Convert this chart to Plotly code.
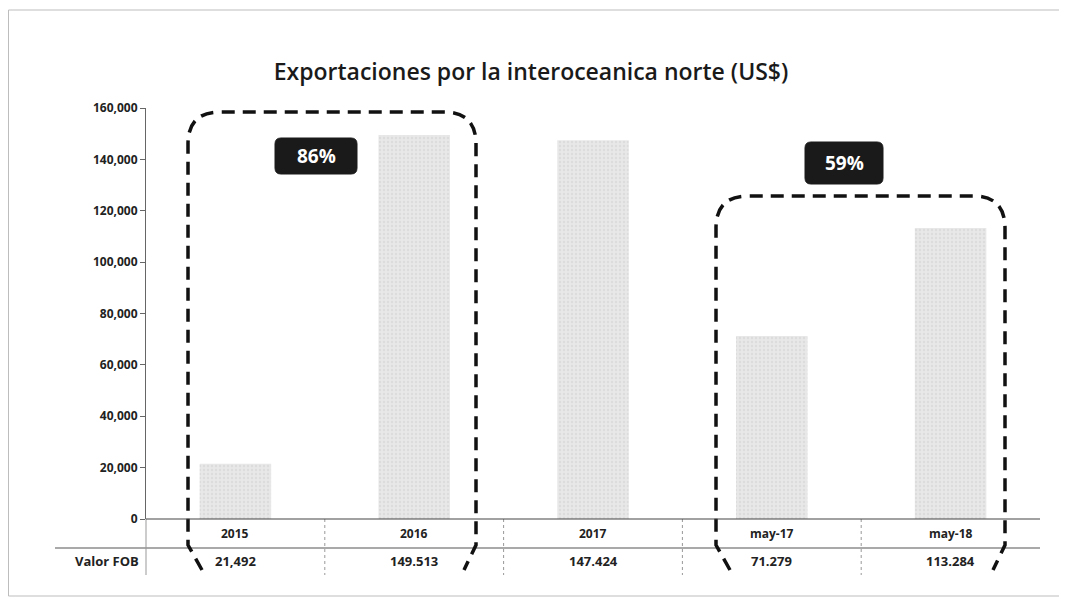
import plotly.graph_objects as go

categories = ["2015", "2016", "2017", "may-17", "may-18"]
valor_fob = [21492, 149513, 147424, 71279, 113284]
valor_labels = ["21,492", "149.513", "147.424", "71.279", "113.284"]
tick_vals = [0, 20000, 40000, 60000, 80000, 100000, 120000, 140000, 160000]
tick_text = ["0", "20,000", "40,000", "60,000", "80,000", "100,000", "120,000", "140,000", "160,000"]
pct_labels = ["86%", "59%"]

OFF = 8  # page body margin
SW, SH = 1067, 604
W, H = SW - OFF, SH - OFF
# plot area in screen pixels
SL, SR, ST, SB = 146, 1040, 108, 519
L, R, T, B = SL - OFF, SW - SR, ST - OFF, SH - SB
PW, PH = SR - SL, SB - ST
FONT = "Open Sans, Noto Sans, sans-serif"

def px(x):
    return (x - SL) / PW

def py(y):
    return (SB - y) / PH

x_idx = list(range(len(categories)))

fig = go.Figure()
fig.add_trace(go.Bar(
    x=x_idx, y=valor_fob, width=0.4,
    marker=dict(color="#e6e6e6", line=dict(width=0),
                pattern=dict(shape=".", fgcolor="#cfcfcf", bgcolor="#e8e8e8", size=4, solidity=0.35)),
    hoverinfo="skip", showlegend=False,
))

shapes = []
annotations = []

# outer border (top, left, bottom)
shapes.append(dict(type="path", xref="paper", yref="paper",
                   path=f"M {px(1066)},{py(10)} L {px(8.5)},{py(10)} L {px(8.5)},{py(596)} L {px(1066)},{py(596)}",
                   line=dict(color="#bdbdbd", width=1)))

# table lines
shapes.append(dict(type="line", xref="paper", yref="paper", x0=px(55), x1=px(1040), y0=py(548), y1=py(548),
                   line=dict(color="#555", width=1.2)))
for k in range(len(categories)):
    xb = k / len(categories)
    shapes.append(dict(type="line", xref="paper", yref="paper", x0=xb, x1=xb, y0=py(519), y1=py(575),
                       line=dict(color="#999", width=1, dash="dot" if k > 0 else "solid")))

# table text
for i, (c, v) in enumerate(zip(categories, valor_labels)):
    xc = (i + 0.5) / len(categories)
    annotations.append(dict(x=xc, y=py(533), xref="paper", yref="paper", text=f"<b>{c}</b>", showarrow=False,
                            font=dict(family=FONT, size=12, color="#222"), xanchor="center", yanchor="middle"))
    annotations.append(dict(x=xc, y=py(561), xref="paper", yref="paper", text=f"<b>{v}</b>", showarrow=False,
                            font=dict(family=FONT, size=13, color="#222"), xanchor="center", yanchor="middle"))
annotations.append(dict(x=px(141), y=py(561), xref="paper", yref="paper", text="<b>Valor FOB</b>", showarrow=False,
                        font=dict(family=FONT, size=13, color="#222"), xanchor="right", yanchor="middle"))

# dashed rounded brackets
def bracket(x0, x1, ytop, ybot=545, r=32):
    xl, xr_ = px(x0), px(x1)
    return (f"M {px(x0+14)},{py(ybot+25)} L {xl},{py(ybot)} "
            f"L {xl},{py(ytop + r)} Q {xl},{py(ytop)} {px(x0 + r)},{py(ytop)} "
            f"L {px(x1 - r)},{py(ytop)} Q {xr_},{py(ytop)} {xr_},{py(ytop + r)} "
            f"L {xr_},{py(ybot)} L {px(x1-12)},{py(ybot+25)}")

for (x0, x1, yt) in [(188, 476, 112), (716, 1005, 196)]:
    shapes.append(dict(type="path", xref="paper", yref="paper", path=bracket(x0, x1, yt),
                       line=dict(color="#111", width=3.5, dash="13px,8px")))

# percentage badges (rounded)
def rrect(x0, y0, x1, y1, r=6):
    return (f"M {px(x0 + r)},{py(y0)} L {px(x1 - r)},{py(y0)} Q {px(x1)},{py(y0)} {px(x1)},{py(y0 + r)} "
            f"L {px(x1)},{py(y1 - r)} Q {px(x1)},{py(y1)} {px(x1 - r)},{py(y1)} "
            f"L {px(x0 + r)},{py(y1)} Q {px(x0)},{py(y1)} {px(x0)},{py(y1 - r)} "
            f"L {px(x0)},{py(y0 + r)} Q {px(x0)},{py(y0)} {px(x0 + r)},{py(y0)} Z")

for lab, (cx, cy, bw, bh) in zip(pct_labels, [(316, 156, 82, 36), (844, 163, 78, 42)]):
    shapes.append(dict(type="path", xref="paper", yref="paper",
                       path=rrect(cx - bw/2, cy - bh/2, cx + bw/2, cy + bh/2),
                       fillcolor="#1a1a1a", line=dict(color="#1a1a1a", width=1)))
    annotations.append(dict(x=px(cx), y=py(cy), xref="paper", yref="paper", text=f"<b>{lab}</b>", showarrow=False,
                            font=dict(family=FONT, size=19, color="white"), xanchor="center", yanchor="middle"))

fig.update_layout(
    width=W, height=H,
    margin=dict(l=L, r=R, t=T, b=B, autoexpand=False),
    paper_bgcolor="white", plot_bgcolor="white",
    title=dict(text="Exportaciones por la interoceanica norte (US$)", x=(531 - OFF)/W, xanchor="center",
               y=1 - (72 - OFF)/H, yanchor="middle",
               font=dict(family=FONT, size=23, color="#1a1a1a", weight=600)),
    xaxis=dict(range=[-0.5, 4.5], showticklabels=False, ticks="", showgrid=False, zeroline=False,
               showline=False, fixedrange=True),
    yaxis=dict(range=[0, 160000], tickvals=tick_vals, ticktext=[f"<b>{t}</b>" for t in tick_text],
               showgrid=False, zeroline=False, showline=True, linecolor="#666", linewidth=1,
               ticks="outside", ticklen=5, tickcolor="#666",
               tickfont=dict(family=FONT, size=12, color="#222")),
    shapes=shapes, annotations=annotations, bargap=0.6,
)
# baseline (x axis)
fig.add_shape(type="line", xref="paper", yref="paper", x0=0, x1=1, y0=0, y1=0, line=dict(color="#444", width=1.2))

fig.write_html("out.html")
